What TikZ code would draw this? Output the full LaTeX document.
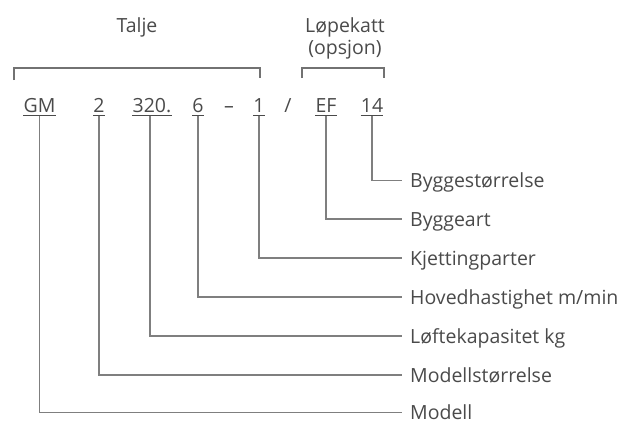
\documentclass[tikz,border=0pt]{standalone}
\usepackage{fontspec}
\setmainfont{Open Sans}
\definecolor{txt}{HTML}{4A4A4A}
\definecolor{ln}{HTML}{7F7F7F}
\begin{document}
\begin{tikzpicture}[x=1pt,y=-1pt,
  every node/.style={font=\fontsize{19.5}{22}\selectfont, text=txt},
  head/.style={anchor=base, inner sep=0pt},
  code/.style={inner xsep=0pt, inner ysep=0pt, text height=14pt, text depth=0pt, anchor=south},
  lbl/.style={anchor=west, inner xsep=8pt, inner ysep=0pt, text height=14pt, text depth=0pt},
  conn/.style={draw=ln, line width=1.1pt},
  brk/.style={draw=ln!90!black, line width=1.1pt},
  uline/.style={draw=txt, line width=0.9pt}]
\useasboundingbox (0,0) rectangle (630,421);
% header labels
\node[head] (talje) at (137,32) {Talje};
\node[head] (lopekatt) at (345,32) {Løpekatt};
\node[head] (opsjon) at (345,54) {(opsjon)};
% brackets
\coordinate (b1a) at (14,80); \coordinate (b1b) at (260,78);
\coordinate (b2a) at (302,78); \coordinate (b2b) at (384,78);
\draw[brk] (b1a) -- ++(0,-12) -| (b1b);
\draw[brk] (b2a) -- ++(0,-10) -| (b2b);
% codes
\node[code] (gm) at (39.5,112.5) {GM};
\node[code] (c2) at (99,112.5) {2};
\node[code] (c320) at (152,112.5) {320.};
\node[code] (c6) at (198,112.5) {6};
\node[code] (dash) at (229,112.5) {–};
\node[code] (c1) at (259,112.5) {1};
\node[code] (slash) at (288,112.5) {/};
\node[code] (ef) at (326,112.5) {EF};
\node[code] (c14) at (372,112.5) {14};
\foreach \n in {gm,c2,c320,c6,c1,ef,c14}
  \draw[uline] ([yshift=-3]\n.south west) -- ([yshift=-3]\n.south east);
% labels
\node[lbl] (l14) at (402,180.5) {Byggestørrelse};
\node[lbl] (lef) at (402,219) {Byggeart};
\node[lbl] (l1) at (402,258) {Kjettingparter};
\node[lbl] (l6) at (402,297) {Hovedhastighet m/min};
\node[lbl] (l320) at (402,336) {Løftekapasitet kg};
\node[lbl] (l2) at (402,375) {Modellstørrelse};
\node[lbl] (lgm) at (402,412.5) {Modell};
% connectors
\draw[conn] ([yshift=-3]c14.south) |- (l14.west);
\draw[conn] ([yshift=-3]ef.south) |- (lef.west);
\draw[conn] ([yshift=-3]c1.south) |- (l1.west);
\draw[conn] ([yshift=-3]c6.south) |- (l6.west);
\draw[conn] ([xshift=-2,yshift=-3]c320.south) |- (l320.west);
\draw[conn] ([yshift=-3]c2.south) |- (l2.west);
\draw[conn] ([yshift=-3]gm.south) |- (lgm.west);
\end{tikzpicture}
\end{document}
